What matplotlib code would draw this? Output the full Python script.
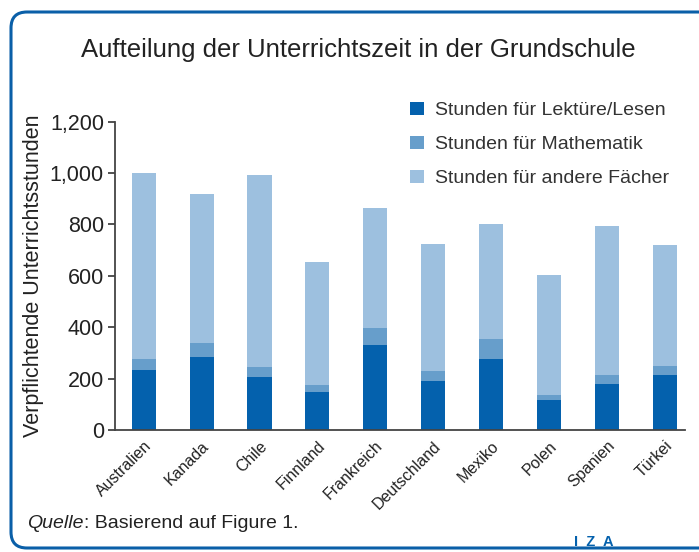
import numpy as np
import matplotlib
matplotlib.use("Agg")
import matplotlib.pyplot as plt
from matplotlib.patches import FancyBboxPatch

plt.rcParams['font.family'] = ['Liberation Sans', 'DejaVu Sans']

countries = ["Australien", "Kanada", "Chile", "Finnland", "Frankreich",
             "Deutschland", "Mexiko", "Polen", "Spanien", "Türkei"]
# stunden
lesen = [234, 284, 206, 148, 331, 191, 276, 117, 179, 214]
mathe = [42, 55, 39, 27, 66, 39, 78, 19, 35, 35]
andere = [724, 579, 747, 479, 467, 494, 448, 467, 580, 471]

series_labels = ["Stunden für Lektüre/Lesen", "Stunden für Mathematik",
                 "Stunden für andere Fächer"]
colors = ["#0461ad", "#679ecb", "#9dc0df"]

W, H = 699, 552
fig = plt.figure(figsize=(W/100, H/100), dpi=100)

# background frame in pixel coords
bg = fig.add_axes([0, 0, 1, 1], zorder=0)
bg.set_xlim(0, W)
bg.set_ylim(H, 0)
bg.axis("off")
frame = FancyBboxPatch((11, 12), 720, 536, boxstyle="round,pad=0,rounding_size=16",
                       fc="white", ec="#0a5fa8", lw=2.2)
bg.add_patch(frame)
bg.text(358, 50, "Aufteilung der Unterrichtszeit in der Grundschule",
        ha="center", va="center", fontsize=18.5, color="#222222")
q = bg.text(27, 523, "Quelle", ha="left", va="center", fontsize=14,
            style="italic", color="#222222")
bg.annotate(": Basierend auf Figure 1.", xy=(1, 0.5), xycoords=q,
            ha="left", va="center", fontsize=14, color="#222222")
bg.text(594, 542, "I  Z  A", ha="center", va="center", fontsize=10.5,
        fontweight="bold", color="#0461ad")

ax = fig.add_axes([115/W, 1-430/H, (685-115)/W, (430-121.7)/H], zorder=1)
ax.patch.set_alpha(0)
x = np.arange(len(countries))
bottom = np.zeros(len(countries))
for vals, lab, c in zip([lesen, mathe, andere], series_labels, colors):
    ax.bar(x, vals, width=0.415, bottom=bottom, color=c, label=lab)
    bottom += np.array(vals)

ax.set_xlim(-0.496, 9.35)
ax.set_ylim(0, 1200)
ax.set_yticks(range(0, 1201, 200))
ax.set_yticklabels([f"{v:,}" for v in range(0, 1201, 200)], fontsize=15.5, color="#222222")
ax.set_xticks(x)
ax.set_xticklabels(countries, rotation=45, ha="right", rotation_mode="anchor",
                   fontsize=11.5, color="#222222")
ax.tick_params(axis="x", length=0, pad=6)
ax.tick_params(axis="y", length=5, width=1.2, color="#333333", pad=3)
for s in ["top", "right"]:
    ax.spines[s].set_visible(False)
for s in ["left", "bottom"]:
    ax.spines[s].set_color("#444444")
    ax.spines[s].set_linewidth(1.3)
ax.set_ylabel("Verpflichtende Unterrichtsstunden", fontsize=15.5, color="#222222", labelpad=4)

ax.legend(loc="upper left", bbox_to_anchor=(0.487, 1.122), frameon=False, fontsize=14,
          handlelength=0.7, handleheight=0.7, handletextpad=0.6, labelspacing=0.85,
          labelcolor="#333333")

fig.savefig("out.png", dpi=100)
